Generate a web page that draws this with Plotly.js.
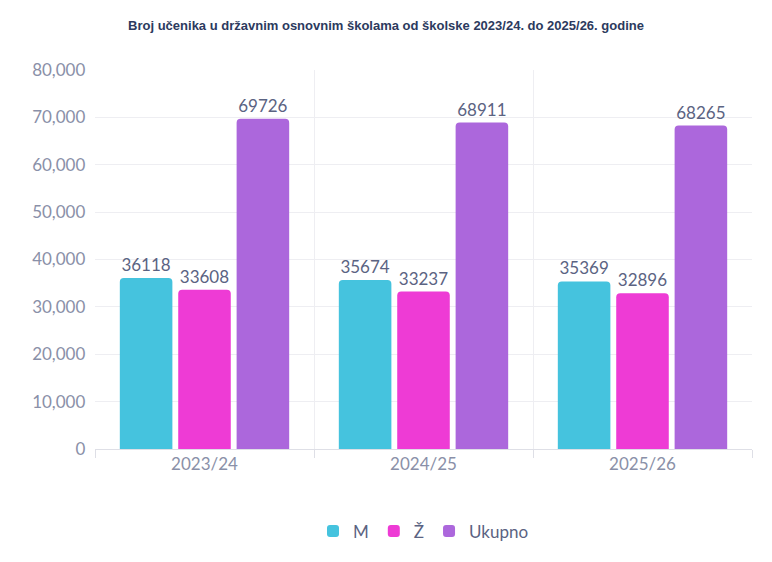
<!DOCTYPE html>
<html>
<head>
<meta charset="utf-8">
<script src="https://cdn.plot.ly/plotly-3.0.1.min.js"></script>
<style>body{margin:0;background:#fff}#chart{width:772px;height:562px}</style>
</head>
<body>
<div id="chart"></div>
<script>
const years = ['2023/24', '2024/25', '2025/26'];
const male = [36118, 35674, 35369];
const female = [33608, 33237, 32896];
const total = [69726, 68911, 68265];

const mk = (name, y, color) => ({
  type: 'bar', name, x: years, y,
  text: y.map(String), textposition: 'outside', cliponaxis: false,
  textfont: { size: 17, color: '#5b6382' },
  marker: { color, cornerradius: 4 },
  hoverinfo: 'y'
});

const data = [
  mk('M', male, '#45c3de'),
  mk('Ž', female, '#ee3bd5'),
  mk('Ukupno', total, '#ac67dc')
];

const layout = {
  width: 772, height: 562,
  margin: { l: 95, r: 20, t: 70, b: 106 },
  font: { family: 'Lato, sans-serif', color: '#8a90a8' },
  title: { text: '<b>Broj učenika u državnim osnovnim školama od školske 2023/24. do 2025/26. godine</b>',
    font: { size: 13, color: '#2c3a5e', family: 'Liberation Sans, Arial' }, x: 0.5, y: 0.962 },
  barmode: 'group', bargap: 0.2, bargroupgap: 0.1,
  xaxis: { tickson: 'boundaries', showgrid: true, gridcolor: '#eeeef2', ticks: 'outside',
    ticklen: 8, tickcolor: '#dedfe6', showline: true, linecolor: '#dedfe6',
    tickfont: { size: 17, color: '#8a90a8' } },
  yaxis: { range: [0, 80000], dtick: 10000, tickformat: ',', gridcolor: '#eeeef2',
    zeroline: false, tickfont: { size: 17, color: '#8a90a8' }, ticksuffix: '  ' },
  legend: { orientation: 'h', x: 0.5, xanchor: 'center', y: -0.17, yanchor: 'top',
    font: { size: 17, color: '#5b6382' } },
  showlegend: true
};

Plotly.newPlot('chart', data, layout, { displayModeBar: false });
</script>
</body>
</html>
